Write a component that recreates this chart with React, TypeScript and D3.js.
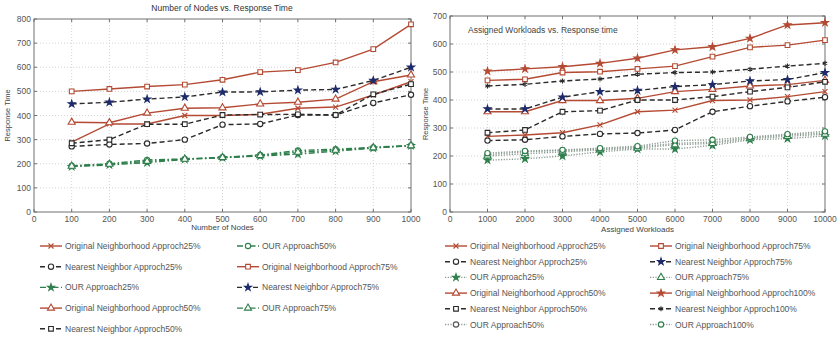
import * as d3 from 'd3';

// ---- left panel: number of nodes ----
const nodeCounts = [100, 200, 300, 400, 500, 600, 700, 800, 900, 1000];
const nodesOrig25 = [290, 365, 365, 400, 400, 405, 430, 435, 485, 540];
const nodesNear25 = [272, 280, 284, 300, 362, 365, 402, 402, 452, 486];
const nodesOur25 = [188, 195, 205, 218, 225, 232, 240, 252, 265, 275];
const nodesOrig50 = [372, 370, 410, 430, 432, 448, 455, 468, 540, 568];
const nodesNear50 = [285, 300, 364, 364, 402, 404, 405, 402, 488, 530];
const nodesOur50 = [192, 200, 216, 220, 227, 236, 255, 260, 268, 276];
const nodesOrig75 = [500, 510, 520, 528, 548, 580, 588, 620, 675, 778];
const nodesNear75 = [448, 455, 468, 477, 497, 498, 505, 508, 545, 600];
const nodesOur75 = [190, 198, 210, 219, 226, 234, 248, 256, 266, 275];

// ---- right panel: assigned workloads ----
const workloads = [1000, 2000, 3000, 4000, 5000, 6000, 7000, 8000, 9000, 10000];
const workOrig25 = [270, 275, 283, 311, 358, 364, 398, 400, 412, 430];
const workNear25 = [255, 258, 270, 279, 282, 293, 358, 378, 395, 410];
const workOur25 = [185, 190, 200, 215, 225, 225, 238, 258, 262, 272];
const workOrig50 = [358, 358, 398, 398, 406, 430, 438, 450, 455, 470];
const workNear50 = [283, 293, 358, 362, 400, 400, 412, 430, 445, 465];
const workOur50 = [205, 215, 220, 225, 232, 245, 250, 265, 275, 282];
const workOrig75 = [470, 474, 498, 501, 511, 521, 555, 588, 596, 614];
const workNear75 = [368, 368, 410, 430, 434, 448, 455, 468, 473, 498];
const workOur75 = [200, 208, 215, 222, 228, 240, 245, 262, 270, 278];
const workOrig100 = [503, 511, 519, 531, 549, 579, 590, 620, 668, 676];
const workNear100 = [450, 456, 468, 475, 492, 498, 500, 510, 521, 531];
const workOur100 = [210, 218, 222, 228, 235, 255, 258, 268, 278, 288];

const nodeXTicks = d3.range(0, 1001, 100);
const nodeYTicks = d3.range(0, 801, 100);
const workXTicks = d3.range(0, 10001, 1000);
const workYTicks = d3.range(0, 701, 100);

const RED = '#b44a33';
const DARK = '#2b2b2b';
const GREEN = '#2f7f4c';
const NAVY = '#1d2a6b';
const FONT = 'Liberation Sans, Arial, sans-serif';

type Shape = 'x' | 'circle' | 'star' | 'triangle' | 'square' | 'asterisk';

interface Series {
  name: string;
  values: number[];
  stroke: string;
  dash: string;
  shape: Shape;
  markStroke: string;
  markFill: string;
}

const symbolFor = (s: Shape) => {
  switch (s) {
    case 'x':
      return (d3 as any).symbolTimes ?? d3.symbolCross;
    case 'circle':
      return d3.symbolCircle;
    case 'star':
      return d3.symbolStar;
    case 'triangle':
      return d3.symbolTriangle;
    case 'square':
      return d3.symbolSquare;
    case 'asterisk':
      return (d3 as any).symbolAsterisk ?? d3.symbolCross;
  }
};

// d3 symbol sizes are areas
const sizeFor = (s: Shape) =>
  s === 'star' ? 15 : s === 'triangle' ? 22 : s === 'x' || s === 'asterisk' ? 18 : 22;

function Marker({ x, y, s }: { x: number; y: number; s: Series }) {
  const d = d3.symbol().type(symbolFor(s.shape)).size(sizeFor(s.shape))() ?? '';
  return (
    <path
      d={d}
      transform={`translate(${x},${y})`}
      fill={s.markFill}
      stroke={s.markStroke}
      strokeWidth={1.1}
    />
  );
}

const DASH_NN = '5,3';
const DASH_LEFT_OUR = '6,2.5,1.5,2.5';
const DASH_RIGHT_OUR = '1.2,1.5';

const leftSeries: Series[] = [
  { name: 'Original Neighborhood Approch25%', values: nodesOrig25, stroke: RED, dash: '', shape: 'x', markStroke: RED, markFill: 'none' },
  { name: 'Nearest Neighbor Approch25%', values: nodesNear25, stroke: DARK, dash: DASH_NN, shape: 'circle', markStroke: DARK, markFill: 'white' },
  { name: 'OUR Approach25%', values: nodesOur25, stroke: GREEN, dash: DASH_LEFT_OUR, shape: 'star', markStroke: GREEN, markFill: GREEN },
  { name: 'Original Neighborhood Approch50%', values: nodesOrig50, stroke: RED, dash: '', shape: 'triangle', markStroke: RED, markFill: 'white' },
  { name: 'Nearest Neighbor Approch50%', values: nodesNear50, stroke: DARK, dash: DASH_NN, shape: 'square', markStroke: DARK, markFill: 'white' },
  { name: 'OUR Approach50%', values: nodesOur50, stroke: GREEN, dash: DASH_LEFT_OUR, shape: 'circle', markStroke: GREEN, markFill: 'white' },
  { name: 'Original Neighborhood Approch75%', values: nodesOrig75, stroke: RED, dash: '', shape: 'square', markStroke: RED, markFill: 'white' },
  { name: 'Nearest Neighbor Approch75%', values: nodesNear75, stroke: DARK, dash: DASH_NN, shape: 'star', markStroke: NAVY, markFill: NAVY },
  { name: 'OUR Approach75%', values: nodesOur75, stroke: GREEN, dash: DASH_LEFT_OUR, shape: 'triangle', markStroke: GREEN, markFill: 'white' },
];

const GREY_DOT = '#8a9a90';
const rightSeries: Series[] = [
  { name: 'Original Neighborhood Approch25%', values: workOrig25, stroke: RED, dash: '', shape: 'x', markStroke: RED, markFill: 'none' },
  { name: 'Nearest Neighbor Approch25%', values: workNear25, stroke: DARK, dash: DASH_NN, shape: 'circle', markStroke: DARK, markFill: 'white' },
  { name: 'OUR Approach25%', values: workOur25, stroke: GREY_DOT, dash: DASH_RIGHT_OUR, shape: 'star', markStroke: GREEN, markFill: GREEN },
  { name: 'Original Neighborhood Approch50%', values: workOrig50, stroke: RED, dash: '', shape: 'triangle', markStroke: RED, markFill: 'white' },
  { name: 'Nearest Neighbor Approch50%', values: workNear50, stroke: DARK, dash: DASH_NN, shape: 'square', markStroke: DARK, markFill: 'white' },
  { name: 'OUR Approach50%', values: workOur50, stroke: GREY_DOT, dash: DASH_RIGHT_OUR, shape: 'circle', markStroke: '#555', markFill: 'white' },
  { name: 'Original Neighborhood Approch75%', values: workOrig75, stroke: RED, dash: '', shape: 'square', markStroke: RED, markFill: 'white' },
  { name: 'Nearest Neighbor Approch75%', values: workNear75, stroke: DARK, dash: DASH_NN, shape: 'star', markStroke: NAVY, markFill: NAVY },
  { name: 'OUR Approach75%', values: workOur75, stroke: GREY_DOT, dash: DASH_RIGHT_OUR, shape: 'triangle', markStroke: GREEN, markFill: 'white' },
  { name: 'Original Neighborhood Approch100%', values: workOrig100, stroke: RED, dash: '', shape: 'star', markStroke: RED, markFill: RED },
  { name: 'Nearest Neighbor Approch100%', values: workNear100, stroke: DARK, dash: DASH_NN, shape: 'asterisk', markStroke: DARK, markFill: 'none' },
  { name: 'OUR Approach100%', values: workOur100, stroke: GREY_DOT, dash: DASH_RIGHT_OUR, shape: 'circle', markStroke: GREEN, markFill: 'white' },
];

// draw order: green first so the darker lines sit on top
const drawOrder = (list: Series[]) =>
  [...list].sort((a, b) => (a.name.startsWith('OUR') ? -1 : 0) - (b.name.startsWith('OUR') ? -1 : 0));

interface PanelProps {
  xs: number[];
  series: Series[];
  xDomain: [number, number];
  yDomain: [number, number];
  xTicks: number[];
  yTicks: number[];
  box: { left: number; right: number; top: number; bottom: number };
  xLabel: string;
  xLabelY: number;
  yLabelX: number;
}

function Panel({ xs, series, xDomain, yDomain, xTicks, yTicks, box, xLabel, xLabelY, yLabelX }: PanelProps) {
  const x = d3.scaleLinear().domain(xDomain).range([box.left, box.right]);
  const y = d3.scaleLinear().domain(yDomain).range([box.bottom, box.top]);
  const line = d3
    .line<number>()
    .x((_, i) => x(xs[i]))
    .y(v => y(v));
  return (
    <g>
      {/* dotted grid */}
      {xTicks.slice(1, -1).map(t => (
        <line key={`gx${t}`} x1={x(t)} x2={x(t)} y1={box.top} y2={box.bottom} stroke="#c8c8c8" strokeWidth={0.8} strokeDasharray="1,2" />
      ))}
      {yTicks.slice(1, -1).map(t => (
        <line key={`gy${t}`} x1={box.left} x2={box.right} y1={y(t)} y2={y(t)} stroke="#c8c8c8" strokeWidth={0.8} strokeDasharray="1,2" />
      ))}
      <rect x={box.left} y={box.top} width={box.right - box.left} height={box.bottom - box.top} fill="none" stroke="#707070" strokeWidth={1} />
      {xTicks.map(t => (
        <g key={`tx${t}`}>
          <line x1={x(t)} x2={x(t)} y1={box.bottom} y2={box.bottom - 3} stroke="#707070" />
          <line x1={x(t)} x2={x(t)} y1={box.top} y2={box.top + 3} stroke="#707070" />
          <text x={x(t)} y={box.bottom + 10} textAnchor="middle" fontSize={8.5} fill="#555" fontFamily={FONT}>
            {t}
          </text>
        </g>
      ))}
      {yTicks.map(t => (
        <g key={`ty${t}`}>
          <line x1={box.left} x2={box.left + 3} y1={y(t)} y2={y(t)} stroke="#707070" />
          <line x1={box.right} x2={box.right - 3} y1={y(t)} y2={y(t)} stroke="#707070" />
          <text x={box.left - 3} y={y(t) + 3} textAnchor="end" fontSize={8.5} fill="#555" fontFamily={FONT}>
            {t}
          </text>
        </g>
      ))}
      {drawOrder(series).map(s => (
        <g key={s.name}>
          <path d={line(s.values) ?? ''} fill="none" stroke={s.stroke} strokeWidth={1.4} strokeDasharray={s.dash || undefined} />
          {s.values.map((v, i) => (
            <Marker key={i} x={x(xs[i])} y={y(v)} s={s} />
          ))}
        </g>
      ))}
      <text x={(box.left + box.right) / 2} y={xLabelY} textAnchor="middle" fontSize={8} fill="#444" fontFamily={FONT}>
        {xLabel}
      </text>
      <text
        transform={`translate(${yLabelX},${(box.top + box.bottom) / 2}) rotate(-90)`}
        textAnchor="middle"
        fontSize={7.5}
        fill="#444"
        fontFamily={FONT}
      >
        Response Time
      </text>
    </g>
  );
}

function Legend({ series, cols, y0, rowGap, colXs }: { series: Series[]; cols: number[]; y0: number; rowGap: number; colXs: number[] }) {
  let idx = 0;
  const items: JSX.Element[] = [];
  cols.forEach((count, c) => {
    for (let r = 0; r < count; r++) {
      const s = series[idx++];
      const lx = colXs[c];
      const ly = y0 + r * rowGap;
      items.push(
        <g key={s.name}>
          <line x1={lx} x2={lx + 22} y1={ly} y2={ly} stroke={s.stroke} strokeWidth={1.4} strokeDasharray={s.dash || undefined} />
          <Marker x={lx + 11} y={ly} s={s} />
          <text x={lx + 25} y={ly + 3} fontSize={8.5} fill="#555" fontFamily={FONT}>
            {s.name}
          </text>
        </g>,
      );
    }
  });
  return <g>{items}</g>;
}

export default function App() {
  return (
    <svg width={840} height={337} style={{ position: 'absolute', left: 0, top: 0, background: 'white' }}>
      <text x={222} y={11} textAnchor="middle" fontSize={8.5} fill="#333" fontFamily={FONT}>
        Number of Nodes vs. Response Time
      </text>
      <Panel
        xs={nodeCounts}
        series={leftSeries}
        xDomain={[0, 1000]}
        yDomain={[0, 800]}
        xTicks={nodeXTicks}
        yTicks={nodeYTicks}
        box={{ left: 34, right: 411, top: 19, bottom: 212 }}
        xLabel="Number of Nodes"
        xLabelY={230}
        yLabelX={10}
      />
      <Legend series={leftSeries} cols={[5, 4]} y0={246} rowGap={20.7} colXs={[40, 237]} />

      <Panel
        xs={workloads}
        series={rightSeries}
        xDomain={[0, 10000]}
        yDomain={[0, 700]}
        xTicks={workXTicks}
        yTicks={workYTicks}
        box={{ left: 450, right: 825, top: 16, bottom: 212 }}
        xLabel="Assigned Workloads"
        xLabelY={232}
        yLabelX={428}
      />
      <text x={468} y={33} fontSize={8.5} fill="#444" fontFamily={FONT}>
        Assigned Workloads vs. Response time
      </text>
      <Legend series={rightSeries} cols={[6, 6]} y0={246} rowGap={15.7} colXs={[445, 650]} />
    </svg>
  );
}
